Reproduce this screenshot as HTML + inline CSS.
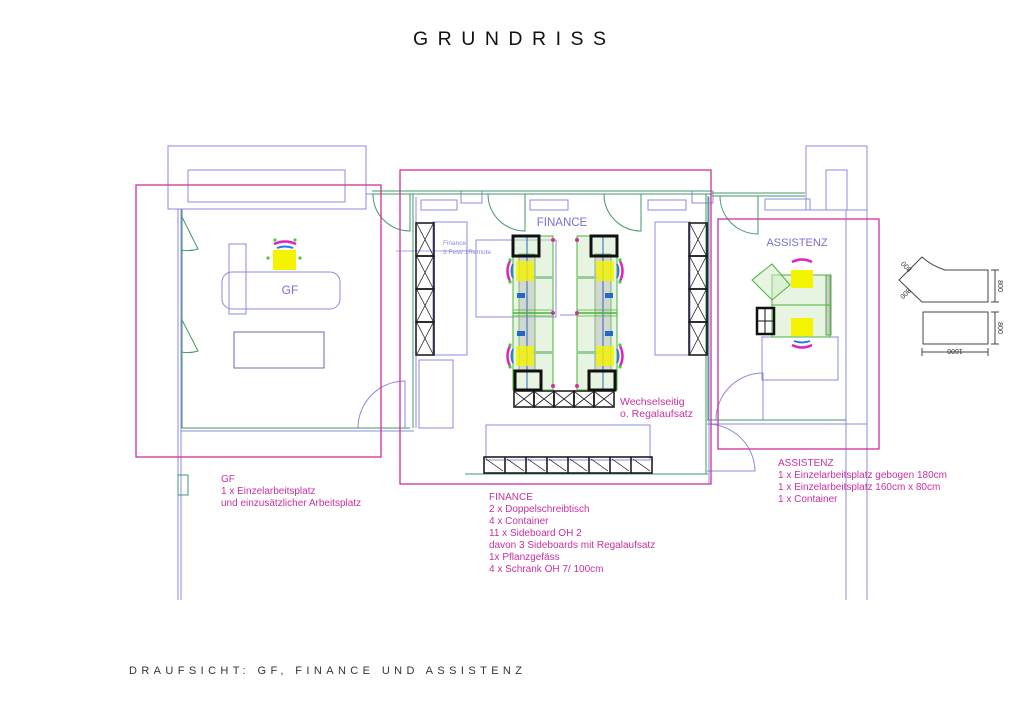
<!DOCTYPE html>
<html><head><meta charset="utf-8"><style>
html,body{margin:0;padding:0;background:#fff;}
svg{display:block;}
text{font-family:"Liberation Sans",sans-serif;}
</style></head><body>
<svg width="1024" height="724" viewBox="0 0 1024 724" xmlns="http://www.w3.org/2000/svg">
<defs>
<g id="xcell"><rect x="0" y="0" width="18" height="33" fill="none" stroke="#111" stroke-width="1.5"/><path d="M1 1L17 32M17 1L1 32" stroke="#222" stroke-width="0.8"/></g>
<g id="hcell"><rect x="0" y="0" width="20" height="16" fill="none" stroke="#111" stroke-width="1.5"/><path d="M1 1L19 15M19 1L1 15" stroke="#222" stroke-width="0.8"/></g>
<g id="seat">
<rect x="-9" y="-10" width="18" height="20" fill="#f4f400" opacity="0.8"/>
<path d="M-15 -10 Q-20 0 -15 10" stroke="#e020c0" stroke-width="2.5" fill="none"/>
<path d="M-12 -7 Q-15 0 -12 7" stroke="#2a7ad8" stroke-width="2" fill="none"/>
<circle cx="-15" cy="-11" r="1.6" fill="#4c4"/><circle cx="-15" cy="11" r="1.6" fill="#4c4"/>
</g>
<g id="desk">
<rect x="0" y="0" width="40" height="154" fill="#cfe9c4" fill-opacity="0.5" stroke="#4ab33a" stroke-width="1"/>
<rect x="6" y="18" width="16" height="118" fill="#bbb" fill-opacity="0.5" stroke="#6a6" stroke-width="0.8"/>
<line x1="14" y1="0" x2="14" y2="154" stroke="#2a66c8" stroke-width="1"/>
<rect x="0" y="0" width="26" height="20" fill="none" stroke="#111" stroke-width="3"/>
<rect x="2" y="135" width="26" height="19" fill="none" stroke="#111" stroke-width="3"/>
<line x1="0" y1="77" x2="40" y2="77" stroke="#4ab33a" stroke-width="1.5"/>
<line x1="0" y1="74" x2="40" y2="74" stroke="#4ab33a" stroke-width="0.8"/>
<line x1="0" y1="80" x2="40" y2="80" stroke="#4ab33a" stroke-width="0.8"/>
<rect x="18" y="40" width="22" height="3" fill="#9c9"/><rect x="18" y="115" width="22" height="3" fill="#9c9"/>
<use href="#seat" x="12" y="35"/><use href="#seat" x="12" y="120"/>
<rect x="4" y="57" width="8" height="5" fill="#2a66c8"/><rect x="4" y="95" width="8" height="5" fill="#2a66c8"/>
<circle cx="40" cy="4" r="2" fill="#d0309a"/><circle cx="40" cy="150" r="2" fill="#d0309a"/><circle cx="40" cy="77" r="2" fill="#d0309a"/>
</g>
</defs>

<text x="413" y="45" font-size="19.5" fill="#111" textLength="193" lengthAdjust="spacing">GRUNDRISS</text>
<text x="129" y="674" font-size="11" fill="#333" textLength="393" lengthAdjust="spacing">DRAUFSICHT: GF, FINANCE UND ASSISTENZ</text>

<g fill="none" stroke="#8c88e0" stroke-width="1">
<rect x="168" y="146" width="198" height="63"/>
<rect x="188" y="170" width="157" height="32"/>
<line x1="178" y1="209" x2="178" y2="600"/><line x1="181" y1="209" x2="181" y2="600"/>
<line x1="366" y1="194" x2="416" y2="194"/>
<rect x="222" y="272" width="118" height="37" rx="10"/>
<rect x="229" y="244" width="17" height="70"/>
<rect x="234" y="332" width="90" height="36" stroke="#6a68a8"/>
<path d="M358 428 A47 47 0 0 1 405 381 L405 428"/>
<line x1="181" y1="431" x2="414" y2="431"/>
<line x1="416" y1="197" x2="416" y2="428"/>
<rect x="461" y="191" width="21" height="12"/><rect x="692" y="191" width="21" height="12"/>
<rect x="421" y="200" width="36" height="10"/><rect x="530" y="200" width="38" height="10"/><rect x="648" y="200" width="38" height="10"/>
<rect x="433" y="222" width="34" height="133"/>
<rect x="419" y="360" width="34" height="68"/>
<rect x="655" y="222" width="35" height="133"/>
<rect x="476" y="240" width="80" height="77"/>
<line x1="396" y1="251" x2="476" y2="251" stroke-width="0.8"/>
<line x1="560" y1="315" x2="578" y2="315"/>
<rect x="486" y="425" width="164" height="35"/>
<line x1="709" y1="197" x2="709" y2="484"/>
<rect x="806" y="146" width="61" height="64"/>
<rect x="826" y="170" width="21" height="40"/>
<line x1="846" y1="210" x2="846" y2="600"/><line x1="867" y1="210" x2="867" y2="600"/>
<rect x="765" y="199" width="45" height="11"/>
<rect x="762" y="337" width="76" height="43"/>
<path d="M716 420 A47 47 0 0 1 763 373 L763 420"/>
<path d="M707 424 A48 48 0 0 1 755 471 L707 471"/>
<line x1="707" y1="424" x2="867" y2="424"/>
</g>

<g fill="none" stroke="#3f9a66" stroke-width="1">
<line x1="182" y1="209" x2="182" y2="428"/>
<line x1="182" y1="428" x2="410" y2="428"/>
<path d="M181 215 L198 249 A34 34 0 0 1 181 250"/>
<path d="M181 318 L198 351 A34 34 0 0 1 181 352"/>
<rect x="178" y="475" width="10" height="20"/>
<line x1="372" y1="191" x2="712" y2="191"/><line x1="372" y1="194" x2="712" y2="194"/>
<path d="M373 194 A37 37 0 0 0 410 231 L410 194"/>
<line x1="413" y1="194" x2="413" y2="428"/>
<path d="M488 194 A37 37 0 0 0 525 231 L525 194"/>
<path d="M604 194 A37 37 0 0 0 641 231 L641 194"/>
<line x1="706" y1="194" x2="706" y2="474"/>
<line x1="465" y1="474" x2="708" y2="474"/>
<line x1="712" y1="193" x2="805" y2="193"/><line x1="712" y1="196" x2="805" y2="196"/>
<path d="M720 196 A38 38 0 0 0 758 234 L758 196"/>
<line x1="708" y1="196" x2="708" y2="420"/>
<line x1="707" y1="420" x2="846" y2="420"/>
</g>

<g fill="none" stroke="#d0309a" stroke-width="1.3">
<rect x="136" y="185" width="245" height="272"/>
<rect x="400" y="170" width="311" height="314"/>
<rect x="718" y="219" width="161" height="230"/>
</g>

<g>
<use href="#xcell" x="416" y="223"/><use href="#xcell" x="416" y="256"/><use href="#xcell" x="416" y="289"/><use href="#xcell" x="416" y="322"/>
<use href="#xcell" x="689" y="223"/><use href="#xcell" x="689" y="256"/><use href="#xcell" x="689" y="289"/><use href="#xcell" x="689" y="322"/>
<use href="#hcell" x="514" y="391"/><use href="#hcell" x="534" y="391"/><use href="#hcell" x="554" y="391"/><use href="#hcell" x="574" y="391"/><use href="#hcell" x="594" y="391"/>
</g>
<g stroke="#111" fill="none">
<rect x="484" y="457" width="168" height="16" stroke-width="1.5"/>
<path d="M505 457V473M526 457V473M547 457V473M568 457V473M589 457V473M610 457V473M631 457V473" stroke-width="1.5"/>
<path d="M486 459L503 471M507 459L524 471M528 459L545 471M549 459L566 471M570 459L587 471M591 459L608 471M612 459L629 471M633 459L650 471" stroke-width="0.7"/>
</g>

<use href="#desk" x="513" y="236"/>
<g transform="translate(617,236) scale(-1,1)"><use href="#desk"/></g>

<rect x="273" y="250" width="23" height="20" fill="#f4f400"/>
<path d="M274 244 Q285 239 296 244" stroke="#e020c0" stroke-width="2.5" fill="none"/>
<path d="M277 248 Q285 245 293 248" stroke="#2a7ad8" stroke-width="2" fill="none"/>
<circle cx="275" cy="240" r="1.6" fill="#4c4"/><circle cx="295" cy="240" r="1.6" fill="#4c4"/>
<circle cx="268" cy="258" r="1.6" fill="#4c4"/><circle cx="300" cy="258" r="1.6" fill="#4c4"/>

<g stroke="#4ab33a" stroke-width="1" fill="#cfe9c4" fill-opacity="0.5">
<rect x="772" y="275" width="58" height="62"/>
<path d="M752 280 L772 264 L790 285 L772 300 Z"/>
<rect x="826" y="275" width="5" height="60" fill="#b9b"/>
<line x1="772" y1="305" x2="830" y2="305"/>
</g>
<rect x="791" y="270" width="22" height="18" fill="#f4f400"/>
<rect x="791" y="318" width="22" height="18" fill="#f4f400"/>
<path d="M792 262 Q802 257 812 262" stroke="#e020c0" stroke-width="2.5" fill="none"/>
<path d="M792 345 Q802 350 812 345" stroke="#e020c0" stroke-width="2.5" fill="none"/>
<path d="M794 341 Q802 344 810 341" stroke="#2a7ad8" stroke-width="2" fill="none"/>
<rect x="757" y="308" width="17" height="26" fill="none" stroke="#111" stroke-width="2.5"/>
<path d="M765 308V334M757 321H774" stroke="#111"/>

<g fill="none" stroke="#444" stroke-width="1">
<path d="M922 257 L899 280 L922 302 L988 302 L988 270 L945 270 Q932 266 922 257 Z"/>
<rect x="923" y="312" width="65" height="32"/>
<path d="M995 270V302M991 270H999M991 302H999"/>
<path d="M995 312V344M991 312H999M991 344H999"/>
<path d="M922 352H988M922 348V356M988 348V356"/>
</g>
<g font-size="7" fill="#333">
<text x="998" y="286" transform="rotate(90 998 286)" text-anchor="middle">800</text>
<text x="998" y="328" transform="rotate(90 998 328)" text-anchor="middle">800</text>
<text x="955" y="355" transform="rotate(180 955 352)" text-anchor="middle">1600</text>
<text x="908" y="265" transform="rotate(225 908 265)" text-anchor="middle">800</text>
<text x="906" y="297" transform="rotate(135 906 294)" text-anchor="middle">800</text>
</g>

<text x="290" y="294" font-size="12" fill="#7470d8" text-anchor="middle">GF</text>
<text x="562" y="226" font-size="11.5" fill="#7470d8" text-anchor="middle">FINANCE</text>
<text x="797" y="246" font-size="11" fill="#7470d8" text-anchor="middle">ASSISTENZ</text>
<text x="443" y="245" font-size="6.5" fill="#8c88e0">Finance</text>
<text x="443" y="254" font-size="6.5" fill="#8c88e0">3 Fest/ 1Remote</text>

<g font-size="10" fill="#cc2fa0">
<text x="620" y="405" font-size="10.5">Wechselseitig</text>
<text x="620" y="417" font-size="10.5">o. Regalaufsatz</text>
<text x="221" y="482">GF</text>
<text x="221" y="494">1 x Einzelarbeitsplatz</text>
<text x="221" y="506">und einzusätzlicher Arbeitsplatz</text>
<text x="489" y="500">FINANCE</text>
<text x="489" y="512">2 x Doppelschreibtisch</text>
<text x="489" y="524">4 x Container</text>
<text x="489" y="536">11 x Sideboard OH 2</text>
<text x="489" y="548">davon 3 Sideboards mit Regalaufsatz</text>
<text x="489" y="560">1x Pflanzgefäss</text>
<text x="489" y="572">4 x Schrank OH 7/ 100cm</text>
<text x="778" y="466">ASSISTENZ</text>
<text x="778" y="478">1 x Einzelarbeitsplatz gebogen 180cm</text>
<text x="778" y="490">1 x Einzelarbeitsplatz 160cm x 80cm</text>
<text x="778" y="502">1 x Container</text>
</g>
</svg>
</body></html>
